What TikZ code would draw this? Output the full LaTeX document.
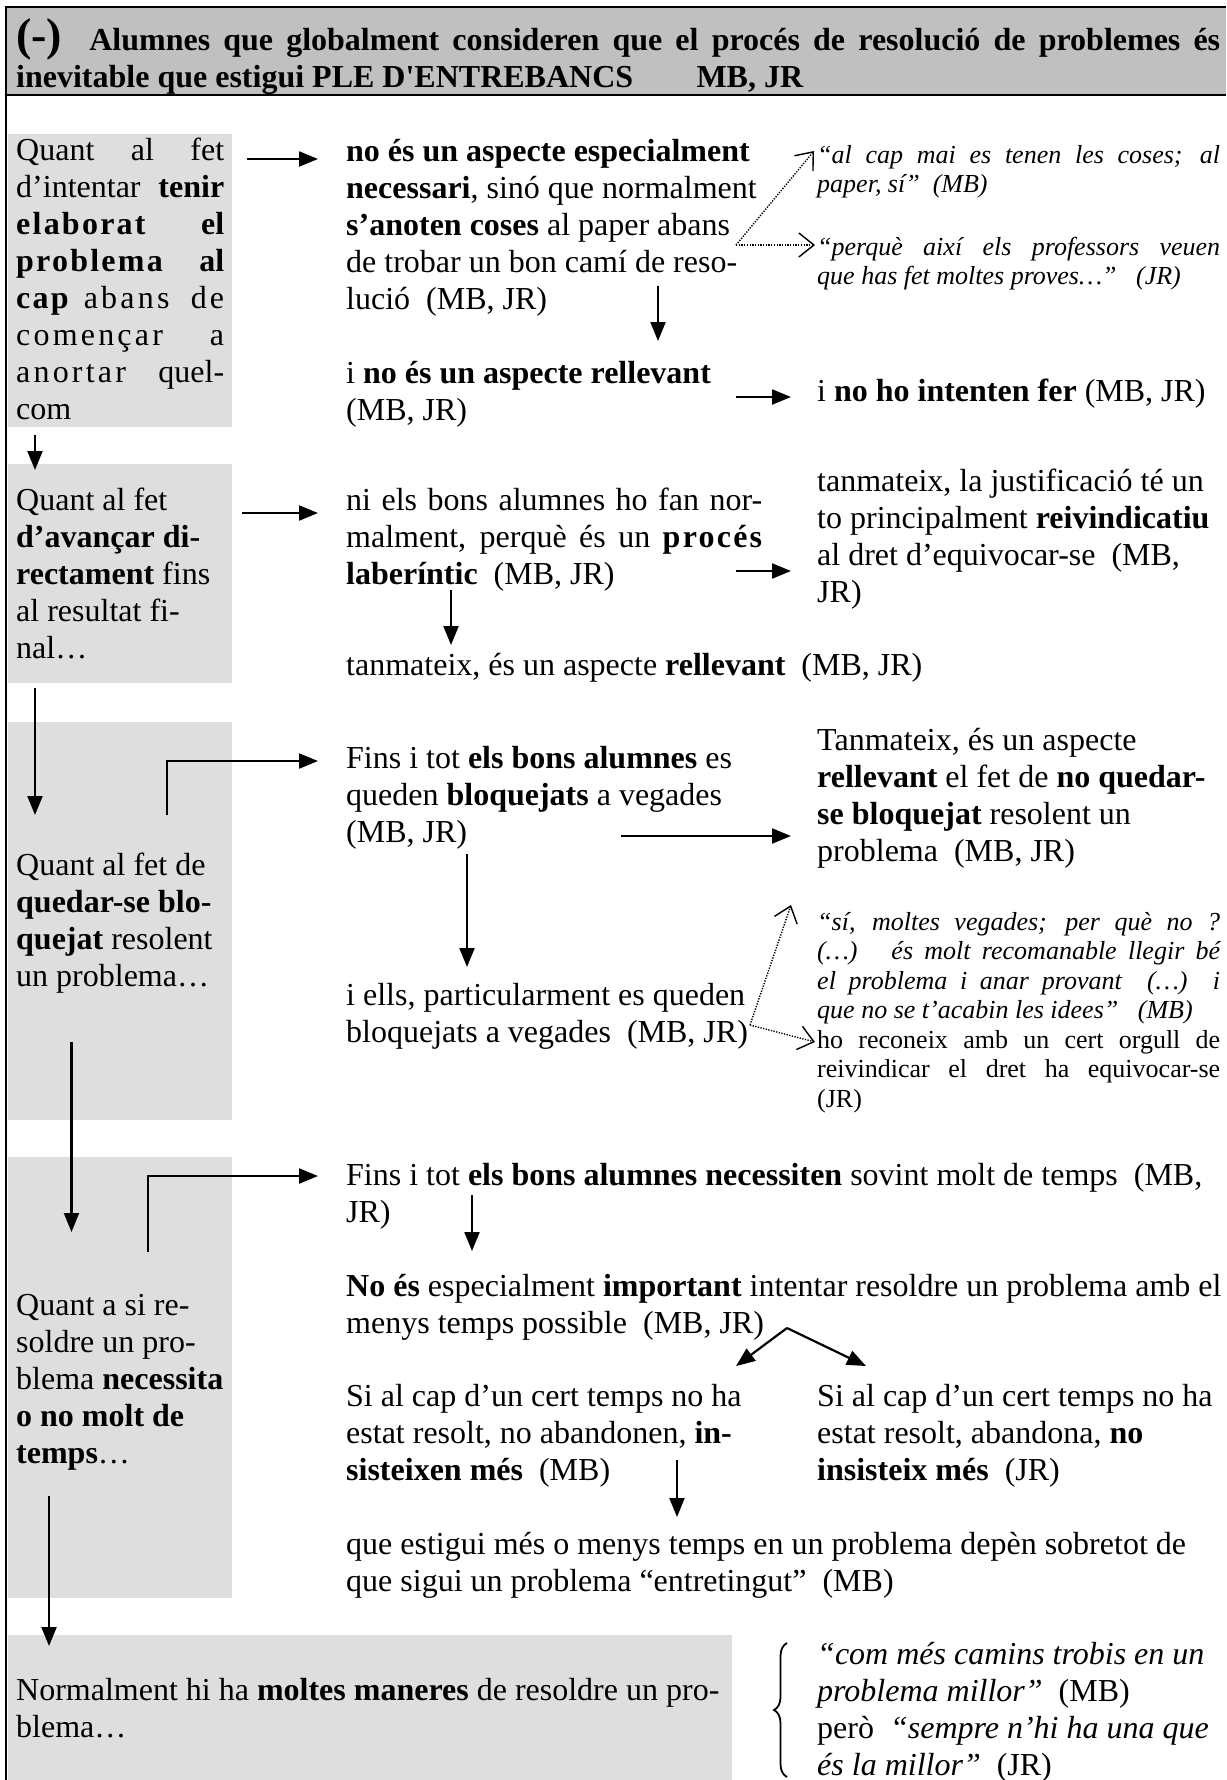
\documentclass[tikz,border=0pt]{standalone}
\usepackage{fontspec}
\setmainfont{Liberation Serif}[Ligatures=TeXOff]
\usetikzlibrary{arrows.meta,decorations.pathreplacing}

\definecolor{boxgray}{RGB}{222,222,222}
\definecolor{headgray}{RGB}{192,192,192}

% font sizes (1pt of the picture = 1 output pixel)
\newcommand\mainsz{\fontsize{32}{37}\selectfont}
\newcommand\smallsz{\fontsize{26}{29.5}\selectfont}
% a paragraph made of explicit lines; base anchor = first baseline
\newcommand\para[1]{\vtop{\lineskiplimit=-1000pt\lineskip=0pt #1}}
\newcommand\li[1]{\hbox{#1}}
\newcommand\jl[2]{\hbox to #1{#2}}
% letter-spaced words
\newcommand\lsb[1]{{\bfseries\addfontfeature{LetterSpace=7}#1}}
\newcommand\lsn[1]{{\addfontfeature{LetterSpace=10}#1}}

\tikzset{
  txt/.style={inner sep=0pt, anchor=base west, font=\mainsz},
  smalltxt/.style={inner sep=0pt, anchor=base west, font=\smallsz},
  greybox/.style={fill=boxgray, draw=none},
  arr/.style={line width=2.2pt, -{Triangle[length=19pt,width=15pt]}},
  dotarr/.style={line width=1.4pt, dash pattern=on 1.3pt off 1.4pt,
    -{Straight Barb[length=15pt,width=24pt,line width=1.4pt]}},
  frame/.style={line width=2.4pt}
}

\begin{document}
\begin{tikzpicture}[x=1pt,y=-1pt]
\useasboundingbox (0,0) rectangle (1226,1780);
\fill[white] (0,0) rectangle (1226,1780);

% heading band and frame
\fill[headgray] (6,7) rectangle (1226,95);
\draw[frame] (1226,7) -- (6,7) -- (6,1780);
\draw[frame] (6,95) -- (1226,95);
\node[txt, font=\mainsz\bfseries] (hdr) at (16,50) {\para{%
  \jl{1204pt}{{\fontsize{46}{46}\selectfont(-)}\hspace{14pt} Alumnes que globalment consideren que el procés de resolució de problemes és}
  \jl{787pt}{inevitable que estigui PLE D'ENTREBANCS\hfill MB, JR}}};

% grey boxes of the left column
\path[greybox] (8,134) rectangle (232,427);
\path[greybox] (8,464) rectangle (232,683);
\path[greybox] (8,722) rectangle (232,1120);
\path[greybox] (8,1157) rectangle (232,1598);
\path[greybox] (8,1635) rectangle (732,1780);

% left column texts
\node[txt] (k1) at (16,160) {\para{%
  \jl{208pt}{Quant al fet}
  \jl{208pt}{d’intentar \textbf{tenir}}
  \jl{208pt}{\lsb{elaborat} \textbf{el}}
  \jl{208pt}{\lsb{problema} \textbf{al}}
  \jl{208pt}{\lsb{cap} \lsn{abans de}}
  \jl{208pt}{\lsn{començar} a}
  \jl{208pt}{\lsn{anortar} quel-}
  \li{com}}};
\node[txt] (k2) at (16,510) {\para{%
  \li{Quant al fet}
  \li{\textbf{d’avançar di-}}
  \li{\textbf{rectament} fins}
  \li{al resultat fi-}
  \li{nal…}}};
\node[txt] (k3) at (16,875) {\para{%
  \li{Quant al fet de}
  \li{\textbf{quedar-se blo-}}
  \li{\textbf{quejat} resolent}
  \li{un problema…}}};
\node[txt] (k4) at (16,1315) {\para{%
  \li{Quant a si re-}
  \li{soldre un pro-}
  \li{blema \textbf{necessita}}
  \li{\textbf{o no molt de}}
  \li{\textbf{temps}…}}};
\node[txt] (k5) at (16,1700) {\para{%
  \li{Normalment hi ha \textbf{moltes maneres} de resoldre un pro-}
  \li{blema…}}};

% first row
\node[txt] (a1) at (346,161) {\para{%
  \li{\textbf{no és un aspecte especialment}}
  \li{\textbf{necessari}, sinó que normalment}
  \li{\textbf{s’anoten coses} al paper abans}
  \li{de trobar un bon camí de reso-}
  \li{lució\ \ (MB, JR)}}};
\node[smalltxt] (q1) at (817,163) {\para{%
  \jl{403pt}{\itshape “al cap mai es tenen les coses; al}
  \li{\itshape paper, sí”\ \ (MB)}}};
\node[smalltxt] (q2) at (817,255) {\para{%
  \jl{403pt}{\itshape “perquè així els professors veuen}
  \li{\itshape que has fet moltes proves…”\ \ \ (JR)}}};
\node[txt] (a2) at (346,383) {\para{%
  \li{i \textbf{no és un aspecte rellevant}}
  \li{(MB, JR)}}};
\node[txt] (a3) at (817,401) {i \textbf{no ho intenten fer} (MB, JR)};

% second row
\node[txt] (b1) at (346,510) {\para{%
  \jl{416pt}{ni els bons alumnes ho fan nor-}
  \jl{416pt}{malment, perquè és un \lsb{procés}}
  \li{\textbf{laberíntic}\ \ (MB, JR)}}};
\node[txt] (b2) at (817,491) {\para{%
  \li{tanmateix, la justificació té un}
  \li{to principalment \textbf{reivindicatiu}}
  \li{al dret d’equivocar-se\ \ (MB,}
  \li{JR)}}};
\node[txt] (b3) at (346,675) {tanmateix, és un aspecte \textbf{rellevant}\ \ (MB, JR)};

% third row
\node[txt] (c1) at (346,768) {\para{%
  \li{Fins i tot \textbf{els bons alumnes} es}
  \li{queden \textbf{bloquejats} a vegades}
  \li{(MB, JR)}}};
\node[txt] (c2) at (817,750) {\para{%
  \li{Tanmateix, és un aspecte}
  \li{\textbf{rellevant} el fet de \textbf{no quedar-}}
  \li{\textbf{se bloquejat} resolent un}
  \li{problema\ \ (MB, JR)}}};
\node[txt] (c3) at (346,1005) {\para{%
  \li{i ells, particularment es queden}
  \li{bloquejats a vegades\ \ (MB, JR)}}};
\node[smalltxt] (c4) at (817,930) {\para{%
  \jl{403pt}{\itshape “sí, moltes vegades; per què no ?}
  \jl{403pt}{\itshape (…)\ \ \ és molt recomanable llegir bé}
  \jl{403pt}{\itshape el problema i anar provant\ \ (…)\ \ i}
  \li{\itshape que no se t’acabin les idees”\ \ \ (MB)}
  \jl{403pt}{ho reconeix amb un cert orgull de}
  \jl{403pt}{reivindicar el dret ha equivocar-se}
  \li{(JR)}}};

% fourth row
\node[txt] (d1) at (346,1185) {\para{%
  \li{Fins i tot \textbf{els bons alumnes necessiten} sovint molt de temps\ \ (MB,}
  \li{JR)}}};
\node[txt] (d2) at (346,1296) {\para{%
  \li{\textbf{No és} especialment \textbf{important} intentar resoldre un problema amb el}
  \li{menys temps possible\ \ (MB, JR)}}};
\node[txt] (d3) at (346,1406) {\para{%
  \li{Si al cap d’un cert temps no ha}
  \li{estat resolt, no abandonen, \textbf{in-}}
  \li{\textbf{sisteixen més}\ \ (MB)}}};
\node[txt] (d4) at (817,1406) {\para{%
  \li{Si al cap d’un cert temps no ha}
  \li{estat resolt, abandona, \textbf{no}}
  \li{\textbf{insisteix més}\ \ (JR)}}};
\node[txt] (d5) at (346,1554) {\para{%
  \li{que estigui més o menys temps en un problema depèn sobretot de}
  \li{que sigui un problema “entretingut”\ \ (MB)}}};

% fifth row
\node[txt] (e1) at (817,1664) {\para{%
  \li{\itshape “com més camins trobis en un}
  \li{\textit{problema millor”}\ \ (MB)}
  \li{però\ \ \textit{“sempre n’hi ha una que}}
  \li{\textit{és la millor”}\ \ (JR)}}};

% connector end points
\coordinate (p1s) at (247,159);  \coordinate (p1e) at (318,159);
\coordinate (p2s) at (658,286);  \coordinate (p2e) at (658,341);
\coordinate (p3s) at (736,397);  \coordinate (p3e) at (791,397);
\coordinate (dq1) at (736,245);  \coordinate (dq1a) at (814,151); \coordinate (dq1b) at (815,245);
\coordinate (v1s) at (35,435);   \coordinate (v1e) at (35,470);
\coordinate (r2s) at (242,513);  \coordinate (r2e) at (318,513);
\coordinate (r2bs) at (736,571); \coordinate (r2be) at (791,571);
\coordinate (r2ds) at (451,590); \coordinate (r2de) at (451,645);
\coordinate (v2s) at (35,688);   \coordinate (v2e) at (35,815);
\coordinate (e3s) at (167,815);  \coordinate (e3m) at (167,761); \coordinate (e3e) at (318,761);
\coordinate (r3s) at (621,836);  \coordinate (r3e) at (791,836);
\coordinate (r3ds) at (467,854); \coordinate (r3de) at (467,967);
\coordinate (dq3) at (750,1025); \coordinate (dq3a) at (791,905); \coordinate (dq3b) at (815,1042);
\coordinate (v3s) at (71.5,1042); \coordinate (v3e) at (71.5,1232);
\coordinate (e4s) at (148,1252); \coordinate (e4m) at (148,1176); \coordinate (e4e) at (318,1176);
\coordinate (r4ds) at (472,1195); \coordinate (r4de) at (472,1251);
\coordinate (sp) at (787,1328);  \coordinate (spl) at (736,1366); \coordinate (spr) at (866,1366);
\coordinate (r4fs) at (677,1460); \coordinate (r4fe) at (677,1517);
\coordinate (v4s) at (49,1496);  \coordinate (v4e) at (49,1646);
\coordinate (brb) at (787,1777); \coordinate (brt) at (787,1643);

% connectors
\draw[arr] (p1s) -- (p1e);
\draw[arr] (p2s) -- (p2e);
\draw[arr] (p3s) -- (p3e);
\draw[dotarr] (dq1) -- (dq1a);
\draw[dotarr] (dq1) -- (dq1b);
\draw[arr] (v1s) -- (v1e);
\draw[arr] (r2s) -- (r2e);
\draw[arr] (r2bs) -- (r2be);
\draw[arr] (r2ds) -- (r2de);
\draw[arr] (v2s) -- (v2e);
\draw[arr] (e3s) -- (e3m) -- (e3e);
\draw[arr] (r3s) -- (r3e);
\draw[arr] (r3ds) -- (r3de);
\draw[dotarr] (dq3) -- (dq3a);
\draw[dotarr] (dq3) -- (dq3b);
\draw[arr] (v3s) -- (v3e);
\draw[arr] (e4s) -- (e4m) -- (e4e);
\draw[arr] (r4ds) -- (r4de);
\draw[arr] (sp) -- (spl);
\draw[arr] (sp) -- (spr);
\draw[arr] (r4fs) -- (r4fe);
\draw[arr] (v4s) -- (v4e);
\draw[line width=1.8pt, decorate, decoration={brace, amplitude=13pt}] (brb) -- (brt);
\end{tikzpicture}
\end{document}
